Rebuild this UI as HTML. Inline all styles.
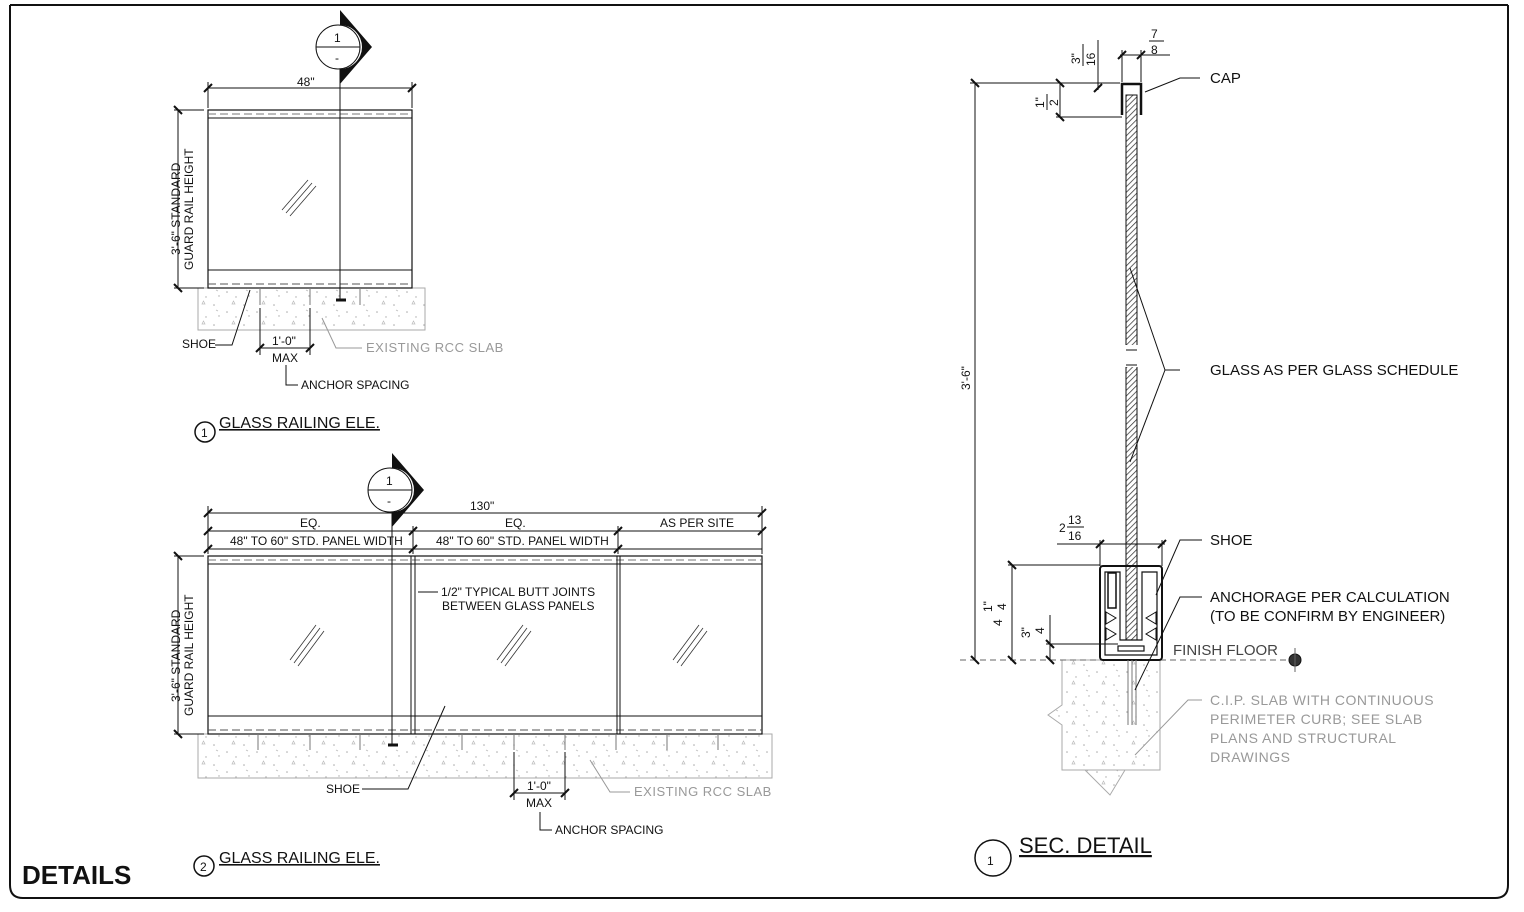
<!DOCTYPE html>
<html><head><meta charset="utf-8"><style>
html,body{margin:0;padding:0;background:#fff;}
svg{display:block;font-family:"Liberation Sans",sans-serif;}
.t{font-size:12px;fill:#111;}
.g{font-size:13px;fill:#999;letter-spacing:0.5px;}
.L{font-size:15px;fill:#111;}
</style></head><body>
<svg width="1524" height="912" viewBox="0 0 1524 912" xmlns="http://www.w3.org/2000/svg">
<defs>
<pattern id="hatch" width="4" height="4" patternUnits="userSpaceOnUse" patternTransform="rotate(45)"><rect width="4" height="4" fill="#fff"/><line x1="0" y1="0" x2="0" y2="4" stroke="#333" stroke-width="1.5"/></pattern>
<pattern id="conc" width="30" height="20" patternUnits="userSpaceOnUse"><rect width="30" height="20" fill="#fff"/><circle cx="4" cy="5" r="0.8" fill="#aaa"/><circle cx="17" cy="12" r="0.8" fill="#aaa"/><path d="M22 4 l3 0 l-1.5 -3z" fill="none" stroke="#bbb" stroke-width="0.7"/><circle cx="9" cy="16" r="0.7" fill="#aaa"/><path d="M6 10 l2 1" stroke="#bbb" stroke-width="0.7"/><circle cx="26" cy="17" r="0.7" fill="#aaa"/></pattern>
</defs>
<path d="M10 5 V885 Q10 898 23 898 H1495 Q1508 898 1508 885 V5" fill="none" stroke="#111" stroke-width="2"/>
<line x1="10" y1="5" x2="1508" y2="5" stroke="#111" stroke-width="2"/>

<!-- ===== Elevation 1 ===== -->
<g stroke="#111" fill="none">
<rect x="198" y="288" width="227" height="42" fill="url(#conc)" stroke="#aaa"/>
<rect x="208" y="110" width="204" height="178" stroke-width="1.2"/>
<line x1="208" y1="118" x2="412" y2="118"/>
<line x1="208" y1="114" x2="412" y2="114" stroke-dasharray="8,4" stroke="#777"/>
<line x1="208" y1="270" x2="412" y2="270"/>
<line x1="208" y1="284" x2="412" y2="284" stroke-dasharray="8,4" stroke="#555"/>
<g stroke="#777"><line x1="260" y1="288" x2="260" y2="305"/><line x1="310" y1="288" x2="310" y2="305"/><line x1="360" y1="288" x2="360" y2="305"/></g>
<g stroke="#333" stroke-width="0.8"><line x1="282" y1="210" x2="308" y2="180"/><line x1="286" y1="213" x2="312" y2="183"/><line x1="290" y1="216" x2="316" y2="186"/></g>
<line x1="208" y1="88" x2="412" y2="88"/><line x1="208" y1="82" x2="208" y2="108"/><line x1="412" y1="82" x2="412" y2="108"/>
<line x1="204" y1="92" x2="212" y2="84" stroke-width="2"/><line x1="408" y1="92" x2="416" y2="84" stroke-width="2"/>
<line x1="178" y1="110" x2="178" y2="288"/><line x1="174" y1="110" x2="204" y2="110"/><line x1="174" y1="288" x2="204" y2="288"/>
<line x1="174" y1="106" x2="182" y2="114" stroke-width="2"/><line x1="174" y1="284" x2="182" y2="292" stroke-width="2"/>
<line x1="340" y1="25" x2="340" y2="300"/><line x1="336" y1="300" x2="346" y2="300" stroke-width="3"/>
<circle cx="338" cy="47" r="22" fill="#fff"/><line x1="316" y1="47" x2="360" y2="47"/>
<path d="M340 10 L372 47 L340 84 L340 69 A22 22 0 0 0 340 25Z" fill="#111" stroke="none"/>
<polyline points="215,345 232,345 250,290"/>
<line x1="260" y1="308" x2="260" y2="355"/><line x1="310" y1="308" x2="310" y2="355"/><line x1="260" y1="348" x2="310" y2="348"/>
<line x1="256" y1="352" x2="264" y2="344" stroke-width="2"/><line x1="306" y1="352" x2="314" y2="344" stroke-width="2"/>
<polyline points="286,365 286,385 298,385"/>
<polyline points="362,348 336,348 322,318" stroke="#999"/>
</g>
<text x="334" y="42" class="t">1</text><text x="335" y="62" class="t">-</text>
<text x="297" y="86" class="t" font-size="13">48"</text>
<text transform="translate(180,255) rotate(-90)" class="t" font-size="13">3'-6" STANDARD</text>
<text transform="translate(193,270) rotate(-90)" class="t" font-size="13">GUARD RAIL HEIGHT</text>
<text x="182" y="348" class="t" font-size="11">SHOE</text>
<text x="272" y="345" class="t" font-size="10">1'-0"</text>
<text x="272" y="362" class="t" font-size="10">MAX</text>
<text x="301" y="389" class="t" font-size="11">ANCHOR SPACING</text>
<text x="366" y="352" class="g" font-size="12">EXISTING RCC SLAB</text>
<circle cx="205" cy="432" r="10" fill="none" stroke="#111" stroke-width="1.5"/><text x="201" y="437" class="t">1</text>
<text x="219" y="428" class="L" text-decoration="underline" style="font-size:16px">GLASS RAILING ELE.</text>

<!-- ===== Elevation 2 ===== -->
<g stroke="#111" fill="none">
<rect x="198" y="734" width="574" height="44" fill="url(#conc)" stroke="#aaa"/>
<rect x="208" y="556" width="554" height="178" stroke-width="1.2"/>
<line x1="208" y1="564" x2="762" y2="564"/>
<line x1="208" y1="560" x2="762" y2="560" stroke-dasharray="8,4" stroke="#777"/>
<line x1="208" y1="716" x2="762" y2="716"/>
<line x1="208" y1="730" x2="762" y2="730" stroke-dasharray="8,4" stroke="#555"/>
<line x1="411" y1="556" x2="411" y2="734"/><line x1="415" y1="556" x2="415" y2="734"/>
<line x1="617" y1="556" x2="617" y2="734"/><line x1="620" y1="556" x2="620" y2="734"/>
<g stroke="#777"><line x1="258" y1="734" x2="258" y2="750"/><line x1="310" y1="734" x2="310" y2="750"/><line x1="360" y1="734" x2="360" y2="750"/><line x1="462" y1="734" x2="462" y2="750"/><line x1="514" y1="734" x2="514" y2="750"/><line x1="565" y1="734" x2="565" y2="750"/><line x1="616" y1="734" x2="616" y2="750"/><line x1="667" y1="734" x2="667" y2="750"/><line x1="718" y1="734" x2="718" y2="750"/></g>
<g stroke="#333" stroke-width="0.8"><line x1="290" y1="660" x2="316" y2="625"/><line x1="294" y1="663" x2="320" y2="628"/><line x1="298" y1="666" x2="324" y2="631"/>
<line x1="497" y1="660" x2="523" y2="625"/><line x1="501" y1="663" x2="527" y2="628"/><line x1="505" y1="666" x2="531" y2="631"/>
<line x1="673" y1="660" x2="699" y2="625"/><line x1="677" y1="663" x2="703" y2="628"/><line x1="681" y1="666" x2="707" y2="631"/></g>
<line x1="208" y1="513" x2="762" y2="513"/><line x1="208" y1="531" x2="762" y2="531"/><line x1="208" y1="549" x2="762" y2="549"/>
<line x1="208" y1="506" x2="208" y2="554"/><line x1="762" y1="506" x2="762" y2="554"/><line x1="413" y1="526" x2="413" y2="554"/><line x1="618" y1="526" x2="618" y2="554"/>
<g stroke-width="2"><line x1="204" y1="517" x2="212" y2="509"/><line x1="758" y1="517" x2="766" y2="509"/><line x1="204" y1="535" x2="212" y2="527"/><line x1="758" y1="535" x2="766" y2="527"/><line x1="409" y1="535" x2="417" y2="527"/><line x1="614" y1="535" x2="622" y2="527"/>
<line x1="204" y1="553" x2="212" y2="545"/><line x1="409" y1="553" x2="417" y2="545"/><line x1="614" y1="553" x2="622" y2="545"/></g>
<line x1="178" y1="556" x2="178" y2="734"/><line x1="174" y1="556" x2="204" y2="556"/><line x1="174" y1="734" x2="204" y2="734"/>
<line x1="174" y1="552" x2="182" y2="560" stroke-width="2"/><line x1="174" y1="730" x2="182" y2="738" stroke-width="2"/>
<line x1="392" y1="470" x2="392" y2="745"/><line x1="388" y1="745" x2="398" y2="745" stroke-width="3"/>
<circle cx="390" cy="490" r="22" fill="#fff"/><line x1="368" y1="490" x2="412" y2="490"/>
<path d="M392 453 L424 490 L392 527 L392 512 A22 22 0 0 0 392 468Z" fill="#111" stroke="none"/>
<line x1="438" y1="592" x2="418" y2="592"/>
<polyline points="362,789 408,789 445,706"/>
<line x1="514" y1="752" x2="514" y2="800"/><line x1="565" y1="752" x2="565" y2="800"/><line x1="514" y1="793" x2="565" y2="793"/>
<line x1="510" y1="797" x2="518" y2="789" stroke-width="2"/><line x1="561" y1="797" x2="569" y2="789" stroke-width="2"/>
<polyline points="540,812 540,830 552,830"/>
<polyline points="630,792 610,792 590,760" stroke="#999"/>
</g>
<text x="386" y="485" class="t">1</text><text x="387" y="505" class="t">-</text>
<text x="470" y="510" class="t" font-size="13">130"</text>
<text x="300" y="527" class="t" font-size="11">EQ.</text><text x="505" y="527" class="t" font-size="11">EQ.</text><text x="660" y="527" class="t" font-size="11">AS PER SITE</text>
<text x="230" y="545" class="t" font-size="11">48" TO 60" STD. PANEL WIDTH</text>
<text x="436" y="545" class="t" font-size="11">48" TO 60" STD. PANEL WIDTH</text>
<text transform="translate(180,702) rotate(-90)" class="t" font-size="13">3'-6" STANDARD</text>
<text transform="translate(193,716) rotate(-90)" class="t" font-size="13">GUARD RAIL HEIGHT</text>
<text x="441" y="596" class="t" font-size="11">1/2" TYPICAL BUTT JOINTS</text>
<text x="442" y="610" class="t" font-size="11">BETWEEN GLASS PANELS</text>
<text x="326" y="793" class="t" font-size="11">SHOE</text>
<text x="527" y="790" class="t" font-size="10">1'-0"</text>
<text x="526" y="807" class="t" font-size="10">MAX</text>
<text x="555" y="834" class="t" font-size="11">ANCHOR SPACING</text>
<text x="634" y="796" class="g" font-size="12">EXISTING RCC SLAB</text>
<circle cx="204" cy="866" r="10" fill="none" stroke="#111" stroke-width="1.5"/><text x="200" y="871" class="t">2</text>
<text x="219" y="863" class="L" text-decoration="underline" style="font-size:16px">GLASS RAILING ELE.</text>
<text x="22" y="884" style="font-size:26px;font-weight:bold;fill:#111">DETAILS</text>

<!-- ===== Section ===== -->
<g stroke="#111" fill="none">
<path d="M1062 660 H1160 V770 H1062 V725 L1048 715 L1062 705Z M1085 770 L1110 795 L1125 770" fill="url(#conc)" stroke="#aaa"/>
<line x1="960" y1="660" x2="1300" y2="660" stroke-dasharray="6,4" stroke="#666"/>
<circle cx="1295" cy="660" r="6" fill="#333"/><line x1="1295" y1="648" x2="1295" y2="672" stroke="#666"/>
<rect x="1126" y="95" width="11" height="545" fill="url(#hatch)"/>
<rect x="1122" y="345" width="20" height="22" fill="#fff" stroke="none"/>
<line x1="1126" y1="350" x2="1137" y2="350"/><line x1="1126" y1="365" x2="1137" y2="365"/>
<path d="M1122 115 V84 H1141 V115" stroke-width="2.5"/>
<rect x="1100" y="566" width="62" height="94" rx="3" stroke-width="2"/>
<path d="M1105 572 H1120 V640 H1142 V572 H1157 V655 H1105Z" stroke-width="1.2"/>
<rect x="1108" y="573" width="8" height="35" stroke-width="1.5"/>
<path d="M1106 612 l10 6 l-10 6z M1106 628 l10 6 l-10 6z M1156 612 l-10 6 l10 6z M1156 628 l-10 6 l10 6z"/>
<rect x="1118" y="646" width="26" height="5" stroke-width="1.2"/>
<g stroke="#777"><line x1="1128" y1="660" x2="1128" y2="725"/><line x1="1132" y1="660" x2="1132" y2="725"/><line x1="1136" y1="660" x2="1136" y2="725"/></g>
<line x1="975" y1="83" x2="975" y2="660"/><line x1="970" y1="83" x2="1120" y2="83"/>
<line x1="971" y1="79" x2="979" y2="87" stroke-width="2"/><line x1="971" y1="656" x2="979" y2="664" stroke-width="2"/>
<line x1="1060" y1="83" x2="1060" y2="117"/><line x1="1056" y1="117" x2="1122" y2="117"/>
<line x1="1056" y1="79" x2="1064" y2="87" stroke-width="2"/><line x1="1056" y1="113" x2="1064" y2="121" stroke-width="2"/>
<line x1="1098" y1="40" x2="1098" y2="90"/><line x1="1094" y1="92" x2="1102" y2="84" stroke-width="2"/>
<line x1="1120" y1="55" x2="1170" y2="55"/><line x1="1122" y1="50" x2="1122" y2="82"/><line x1="1141" y1="50" x2="1141" y2="82"/>
<line x1="1118" y1="59" x2="1126" y2="51" stroke-width="2"/><line x1="1137" y1="59" x2="1145" y2="51" stroke-width="2"/>
<polyline points="1200,78 1180,78 1145,92"/>
<line x1="1057" y1="544" x2="1165" y2="544"/><line x1="1100" y1="540" x2="1100" y2="566"/><line x1="1162" y1="540" x2="1162" y2="566"/>
<line x1="1096" y1="548" x2="1104" y2="540" stroke-width="2"/><line x1="1158" y1="548" x2="1166" y2="540" stroke-width="2"/>
<line x1="1012" y1="565" x2="1012" y2="660"/><line x1="1008" y1="565" x2="1100" y2="565"/>
<line x1="1008" y1="561" x2="1016" y2="569" stroke-width="2"/><line x1="1008" y1="656" x2="1016" y2="664" stroke-width="2"/>
<line x1="1050" y1="615" x2="1050" y2="660"/><line x1="1046" y1="644" x2="1118" y2="644"/>
<line x1="1046" y1="640" x2="1054" y2="648" stroke-width="2"/><line x1="1046" y1="656" x2="1054" y2="664" stroke-width="2"/>
<polyline points="1180,370 1165,370 1130,268"/><polyline points="1165,370 1130,462"/>
<polyline points="1202,540 1180,540 1156,595"/>
<polyline points="1202,597 1180,597 1135,690"/>
<polyline points="1202,700 1188,700 1135,755" stroke="#999"/>
</g>
<text transform="translate(970,390) rotate(-90)" class="t" font-size="15">3'-6"</text>
<text x="1151" y="38" class="t" font-size="15">7</text><line x1="1149" y1="41" x2="1164" y2="41" stroke="#111"/><text x="1151" y="54" class="t" font-size="15">8</text>
<text transform="translate(1080,64) rotate(-90)" class="t" font-size="14">3"</text><line x1="1083" y1="66" x2="1083" y2="44" stroke="#111"/><text transform="translate(1095,66) rotate(-90)" class="t" font-size="14">16</text>
<text transform="translate(1044,108) rotate(-90)" class="t" font-size="14">1"</text><line x1="1047" y1="110" x2="1047" y2="94" stroke="#111"/><text transform="translate(1058,106) rotate(-90)" class="t" font-size="14">2</text>
<text transform="translate(1002,626) rotate(-90)" class="t" font-size="15">4</text><text transform="translate(992,612) rotate(-90)" class="t" font-size="13">1"</text><text transform="translate(1006,610) rotate(-90)" class="t" font-size="13">4</text>
<text transform="translate(1030,638) rotate(-90)" class="t" font-size="13">3"</text><text transform="translate(1044,634) rotate(-90)" class="t" font-size="13">4</text>
<text x="1059" y="532" class="t" font-size="16">2</text><text x="1068" y="524" class="t" font-size="14">13</text><line x1="1067" y1="527" x2="1084" y2="527" stroke="#111"/><text x="1068" y="540" class="t" font-size="14">16</text>
<text x="1210" y="83" class="L">CAP</text>
<text x="1210" y="375" class="L">GLASS AS PER GLASS SCHEDULE</text>
<text x="1210" y="545" class="L">SHOE</text>
<text x="1210" y="602" class="L">ANCHORAGE PER CALCULATION</text>
<text x="1210" y="621" class="L">(TO BE CONFIRM BY ENGINEER)</text>
<text x="1173" y="655" style="font-size:15px;fill:#444">FINISH FLOOR</text>
<g class="g" style="font-size:14px"><text x="1210" y="705">C.I.P. SLAB WITH CONTINUOUS</text><text x="1210" y="724">PERIMETER CURB; SEE SLAB</text><text x="1210" y="743">PLANS AND STRUCTURAL</text><text x="1210" y="762">DRAWINGS</text></g>
<circle cx="993" cy="858" r="18" fill="none" stroke="#111" stroke-width="1.5"/><text x="987" y="865" class="t" font-size="18">1</text>
<text x="1019" y="853" style="font-size:22px;fill:#111" text-decoration="underline">SEC. DETAIL</text>
</svg>
</body></html>
